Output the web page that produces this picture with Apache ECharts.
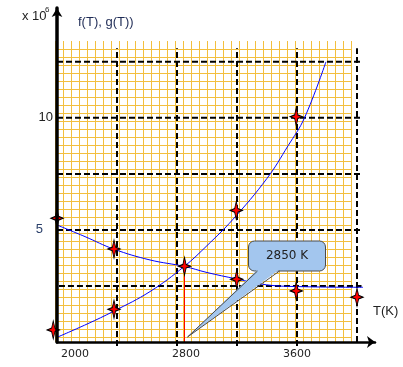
<!DOCTYPE html>
<html>
<head>
<meta charset="utf-8">
<script src="https://cdn.jsdelivr.net/npm/echarts@6/dist/echarts.min.js"></script>
<style>html,body{margin:0;padding:0;background:#fff}#c{width:403px;height:367px}</style>
</head>
<body>
<div id="c"></div>
<script>
// ---- data ----
const xTickLabels = [2000, 2800, 3600];
const yTickLabels = [5, 10];
const dashX = [2400, 2800, 3200, 3600, 4000];
const dashY = [2.5, 5, 7.5, 10, 12.5];
const fCurveT = [1987, 2200, 2380, 2620, 2850, 3000, 3170, 3400, 3540, 3650, 3793];
const fCurveV = [0.17, 0.8, 1.38, 2.25, 3.38, 4.3, 5.45, 7.3, 8.75, 10.0, 12.5];
const gCurveT = [2000, 2187, 2380, 2620, 2850, 3000, 3193, 3398, 3620, 4040];
const gCurveV = [5.22, 4.7, 4.14, 3.66, 3.37, 3.1, 2.82, 2.55, 2.47, 2.44];
const fStarT = [1975, 2380, 2850, 3195, 3595];
const fStarV = [0.54, 1.46, 3.38, 5.87, 10.05];
const gStarT = [2000, 2380, 3198, 3595, 4000];
const gStarV = [5.52, 4.15, 2.8, 2.28, 2.0];
const crossT = 2850;
const crossV = 3.37;

const zip = (a, b) => a.map((v, i) => [v, b[i]]);
const chart = echarts.init(document.getElementById('c'), null, {renderer: 'canvas'});

const starPath = 'path://M0,-10 L1.6,-2 L6,0 L1.6,2 L0,10 L-1.6,2 L-6,0 L-1.6,-2 Z';
const dashStyle = {color: '#000', width: 2, type: [6, 3]};
const paperColor = '#f3bf3e';
const paperStep = 8;

const series = [];
// graph paper background (cells of fixed pixel size)
series.push({type: 'custom', xAxisIndex: 1, yAxisIndex: 1, data: [[0, 0]], silent: true, z: 0, clip: false,
  renderItem: (params, api) => {
    const cs = params.coordSys;
    const children = [];
    for (let x = cs.x; x <= cs.x + cs.width + 0.1; x += paperStep) {
      children.push({type: 'rect', shape: {x: Math.round(x), y: cs.y, width: 1, height: cs.height},
        style: {fill: paperColor, opacity: 1}});
    }
    for (let y = cs.y + paperStep; y <= cs.y + cs.height + 0.1; y += paperStep) {
      children.push({type: 'rect', shape: {x: cs.x, y: Math.round(y), width: cs.width, height: 1},
        style: {fill: paperColor, opacity: 1}});
    }
    return {type: 'group', children: children};
  }});
dashX.forEach(x => {
  const bottom = x === 4000 ? 0 : -0.18;
  series.push({type: 'line', data: [[x, bottom], [x, 13.1]], symbol: 'none', clip: false,
    lineStyle: dashStyle, silent: true, z: 3});
});
dashY.forEach(y => {
  const left = y === 2.5 ? 1953 : 2000;
  series.push({type: 'line', data: [[left, y], [4030, y]], symbol: 'none', clip: false,
    lineStyle: dashStyle, silent: true, z: 3});
});
series.push({type: 'line', data: [[crossT, crossV], [crossT, 0]], symbol: 'none', clip: false,
  lineStyle: {color: '#ff0000', width: 1}, silent: true, z: 4});
series.push({type: 'line', data: zip(fCurveT, fCurveV), smooth: 0.4, symbol: 'none', clip: false,
  lineStyle: {color: '#0000ff', width: 1}, z: 5});
series.push({type: 'line', data: zip(gCurveT, gCurveV), smooth: 0.4, symbol: 'none', clip: false,
  lineStyle: {color: '#0000ff', width: 1}, z: 5});
series.push({type: 'scatter', data: zip(fStarT, fStarV).concat(zip(gStarT, gStarV)), symbol: starPath,
  symbolSize: [12, 18], clip: false, z: 6,
  itemStyle: {color: '#ff0000', borderColor: '#000', borderWidth: 1, opacity: 1}});

chart.setOption({
  animation: false,
  grid: [
    {left: 57, top: 8, width: 318, height: 334},
    {left: 55, top: 41, width: 296, height: 301}
  ],
  xAxis: [
    {type: 'value', gridIndex: 0, min: 2000, max: 4120, interval: 400, z: 10,
      axisLine: {show: true, onZero: false, symbol: ['none', 'arrow'], symbolSize: [9, 8],
        lineStyle: {color: '#000', width: 2.5}},
      axisTick: {show: false}, splitLine: {show: false},
      axisLabel: {margin: 7, fontFamily: 'DejaVu Sans', fontSize: 11, color: '#222',
        formatter: v => {
          if (!xTickLabels.includes(v)) return '';
          if (v === 2000) return '{a|' + v + '}';
          if (v === 2800) return '{b|' + v + '}';
          return '{c|' + v + '}';
        },
        rich: {
          a: {padding: [0, 0, 0, 36], fontFamily: 'DejaVu Sans', fontSize: 11, color: '#222'},
          b: {padding: [0, 0, 0, 18], fontFamily: 'DejaVu Sans', fontSize: 11, color: '#222'},
          c: {fontFamily: 'DejaVu Sans', fontSize: 11, color: '#222'}
        }}},
    {type: 'value', gridIndex: 1, min: 0, max: 296, show: false, splitLine: {show: false}}
  ],
  yAxis: [
    {type: 'value', gridIndex: 0, min: 0, max: 14.9, interval: 2.5, z: 10,
      axisLine: {show: true, onZero: false, symbol: ['none', 'arrow'], symbolSize: [8, 9],
        lineStyle: {color: '#000', width: 3.5}},
      axisTick: {show: false}, splitLine: {show: false},
      axisLabel: {margin: 4, fontFamily: 'Liberation Sans', fontSize: 13, color: '#222',
        formatter: v => {
          if (!yTickLabels.includes(v)) return '';
          return v === 5 ? '{p|5}' : String(v);
        },
        rich: {p: {padding: [0, 10, 0, 0], fontFamily: 'Liberation Sans', fontSize: 13, color: '#2a3f6a'}}}},
    {type: 'value', gridIndex: 1, min: 0, max: 301, show: false, splitLine: {show: false}}
  ],
  series: series
});

// annotation callout anchored to the crossing temperature
const base = chart.convertToPixel({gridIndex: 0}, [crossT, 0]);
const tip = [base[0] + 3, base[1] - 5];
const bx = tip[0] + 61, by = tip[1] - 96, bw = 77, bh = 30;
const fillC = '#a3c6ee', strokeC = '#4a4a4a';
chart.setOption({
  graphic: [
    {type: 'text', left: 22, top: 10, z: 10,
      style: {text: 'x 10', fontFamily: 'Liberation Sans', fontSize: 13, fill: '#222'}},
    {type: 'text', left: 45, top: 6, z: 10,
      style: {text: '6', fontFamily: 'Liberation Sans', fontSize: 8, fill: '#222'}},
    {type: 'text', left: 78, top: 16, z: 10,
      style: {text: 'f(T), g(T))', fontFamily: 'Liberation Sans', fontSize: 13, fill: '#1e2b55'}},
    {type: 'text', left: 373, top: 305, z: 10,
      style: {text: 'T(K)', fontFamily: 'Liberation Sans', fontSize: 13, fill: '#222'}},
    {type: 'rect', z: 20, shape: {x: bx, y: by, width: bw, height: bh, r: 6},
      style: {fill: fillC, stroke: strokeC, lineWidth: 1}},
    {type: 'polygon', z: 21, shape: {points: [[bx + 9, by + bh - 1.5], tip, [bx + 31, by + bh - 1.5]]},
      style: {fill: fillC, stroke: null}},
    {type: 'polyline', z: 22, shape: {points: [[bx + 9, by + bh], tip, [bx + 31, by + bh]]},
      style: {fill: null, stroke: strokeC, lineWidth: 1}},
    {type: 'text', z: 23, x: bx + bw / 2, y: by + bh / 2,
      style: {text: crossT + ' K', fontFamily: 'DejaVu Sans', fontSize: 12, fill: '#222',
        align: 'center', verticalAlign: 'middle'}}
  ]
});
</script>
</body>
</html>
